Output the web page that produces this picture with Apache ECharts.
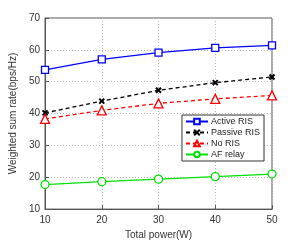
<!DOCTYPE html>
<html><head><meta charset="utf-8">
<script src="https://cdn.jsdelivr.net/npm/echarts@6/dist/echarts.min.js"></script>
<style>html,body{margin:0;padding:0;background:#fff}#c{width:300px;height:245px}</style>
</head><body><div id="c"></div>
<script>
const categories = [10, 20, 30, 40, 50];
const activeRIS = [53.7, 57.0, 59.1, 60.6, 61.4];
const passiveRIS = [40.2, 43.9, 47.3, 49.7, 51.5];
const noRIS = [38.3, 41.0, 43.2, 44.6, 45.7];
const afRelay = [17.7, 18.6, 19.4, 20.2, 21.0];
const seriesNames = ['Active RIS', 'Passive RIS', 'No RIS', 'AF relay'];

const pairs = a => a.map((v, i) => [categories[i], v]);
const font = 'Liberation Sans, Arial, sans-serif';
const chart = echarts.init(document.getElementById('c'));
const mk = (name, data, color, symbol, dashed, size, bw) => ({
  name, type: 'line', data: pairs(data), symbol, symbolSize: size,
  lineStyle: { color, width: 1.3, type: dashed ? [4, 3] : 'solid' },
  itemStyle: { color: '#fff', borderColor: color, borderWidth: bw || 1.3 },
  emphasis: { disabled: true }, animation: false
});
chart.setOption({
  animation: false,
  grid: { left: 39, right: 28, top: 18, bottom: 28, show: true, borderColor: '#555', borderWidth: 1 },
  xAxis: {
    type: 'value', min: 10, max: 50, interval: 10,
    axisLine: { lineStyle: { color: '#555' } },
    axisTick: { inside: true, length: 4, lineStyle: { color: '#555' } },
    axisLabel: { color: '#333', fontSize: 10, fontFamily: font, margin: 6 },
    splitLine: { show: true, lineStyle: { color: '#bbb', type: [1, 2] } },
    name: 'Total power(W)', nameLocation: 'middle', nameGap: 19,
    nameTextStyle: { color: '#333', fontSize: 10, fontFamily: font }
  },
  yAxis: {
    type: 'value', min: 10, max: 70, interval: 10,
    axisLine: { lineStyle: { color: '#555' } },
    axisTick: { inside: true, length: 4, lineStyle: { color: '#555' } },
    axisLabel: { color: '#333', fontSize: 10, fontFamily: font, margin: 5 },
    splitLine: { show: true, lineStyle: { color: '#bbb', type: [1, 2] } },
    name: 'Weighted sum rate(bps/Hz)', nameLocation: 'middle', nameGap: 21,
    nameTextStyle: { color: '#333', fontSize: 10, fontFamily: font }
  },
  legend: {
    orient: 'vertical', right: 36, top: 115, itemGap: 2, itemWidth: 22, itemHeight: 7,
    backgroundColor: '#fff', borderColor: '#333', borderWidth: 1, padding: [2, 4, 2, 3],
    textStyle: { fontSize: 9, fontFamily: font, color: '#222', padding: [0, 0, 0, -2] },
    data: seriesNames
  },
  series: [
    mk(seriesNames[0], activeRIS, '#0000ff', 'rect', false, 7),
    mk(seriesNames[1], passiveRIS, '#000000', 'path://M0,0L10,10M10,0L0,10', true, 5, 2),
    mk(seriesNames[2], noRIS, '#ff0000', 'triangle', true, 9),
    mk(seriesNames[3], afRelay, '#00e000', 'circle', false, 8)
  ]
});
</script></body></html>
